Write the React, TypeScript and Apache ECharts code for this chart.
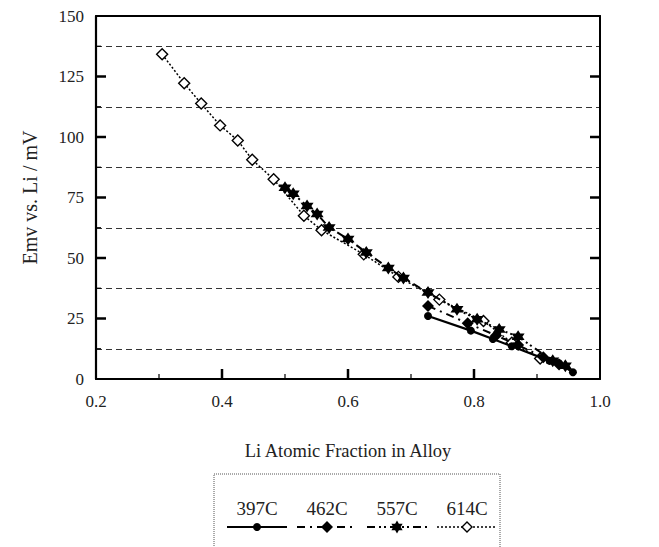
import React, { useEffect, useRef } from "react";
import * as echarts from "echarts";

// ---- data ----
const seriesNames = ["397C", "462C", "557C", "614C"];

const x397 = [0.727, 0.795, 0.83, 0.86, 0.92, 0.935, 0.957];
const y397 = [26.0, 20.0, 16.5, 13.5, 7.5, 6.5, 2.8];

const x462 = [0.727, 0.79, 0.835, 0.87, 0.91, 0.935];
const y462 = [30.2, 23.0, 18.0, 14.0, 9.0, 6.0];

const x557 = [0.5, 0.513, 0.535, 0.551, 0.57, 0.6, 0.629, 0.664, 0.688, 0.727, 0.773, 0.805, 0.84, 0.87, 0.925, 0.945];
const y557 = [79.0, 76.5, 71.5, 68.2, 62.6, 57.9, 52.3, 45.9, 41.7, 35.7, 28.8, 24.7, 20.5, 17.5, 7.5, 5.5];

const x614 = [0.305, 0.34, 0.367, 0.397, 0.425, 0.448, 0.482, 0.53, 0.558, 0.625, 0.68, 0.745, 0.815, 0.86, 0.905];
const y614 = [134.2, 122.2, 113.8, 104.8, 98.6, 90.6, 82.5, 67.5, 61.5, 51.5, 42.2, 32.8, 24.0, 15.0, 8.5];

const xTicks = { min: 0.2, max: 1.0, interval: 0.2 };
const yTicks = { min: 0, max: 150, interval: 25 };

// tick positions (values)
const xMajorTickVals = [0.4, 0.6, 0.8];
const xMinorTickVals = [0.3, 0.5, 0.7, 0.9];
const yMajorTickVals = [25, 50, 75, 100, 125];
const yMinorTickVals = [12.5, 37.5, 62.5, 87.5, 112.5, 137.5];

const FONT = "Liberation Serif";
const STAR =
  "path://M0,-10L2.887,-5L8.66,-5L5.77,0L8.66,5L2.887,5L0,10L-2.887,5L-8.66,5L-5.77,0L-8.66,-5L-2.887,-5Z";

const zip = (xs: number[], ys: number[]) => xs.map((x, i) => [x, ys[i]]);

function starPoints(cx: number, cy: number, r: number) {
  const pts: number[][] = [];
  for (let i = 0; i < 12; i++) {
    const a = (-90 + i * 30) * (Math.PI / 180);
    const rr = i % 2 === 0 ? r : r / Math.sqrt(3);
    pts.push([cx + rr * Math.cos(a), cy + rr * Math.sin(a)]);
  }
  return pts;
}

function diamondPoints(cx: number, cy: number, r: number) {
  return [
    [cx, cy - r],
    [cx + r, cy],
    [cx, cy + r],
    [cx - r, cy],
  ];
}

export default function App() {
  const ref = useRef<HTMLDivElement>(null);

  useEffect(() => {
    document.body.style.margin = "0";
    const chart = echarts.init(ref.current!, null, { renderer: "svg" });

    const lineStyles: any[] = [
      { color: "#000", width: 2.2, type: "solid" },
      { color: "#000", width: 2, type: [8, 5, 2, 5] },
      { color: "#000", width: 2, type: [8, 4, 2, 3, 2, 4] },
      { color: "#000", width: 1.5, type: [2, 2] },
    ];

    // legend drawn as graphic
    const legLeft = 214;
    const legTop = 474;
    const centers = [257, 327, 397, 467];
    const textY = 508;
    const lineY = 527;
    const legendChildren: any[] = [
      {
        type: "rect",
        shape: { x: legLeft, y: legTop, width: 286, height: 90 },
        style: { fill: "none", stroke: "#555", lineWidth: 1, lineDash: [1, 1] },
      },
    ];
    seriesNames.forEach((n, i) => {
      const cx = centers[i];
      legendChildren.push({
        type: "text",
        style: {
          text: n,
          x: cx,
          y: textY,
          align: "center",
          verticalAlign: "middle",
          font: `19px "${FONT}"`,
          fill: "#222",
        },
      });
      const ls = lineStyles[i];
      legendChildren.push({
        type: "line",
        shape: { x1: cx - 30, y1: lineY, x2: cx + 30, y2: lineY },
        style: {
          stroke: "#000",
          lineWidth: ls.width,
          lineDash: Array.isArray(ls.type) ? ls.type : null,
        },
      });
      if (i === 0) {
        legendChildren.push({ type: "circle", shape: { cx, cy: lineY, r: 4 }, style: { fill: "#000" } });
      } else if (i === 1) {
        legendChildren.push({ type: "polygon", shape: { points: diamondPoints(cx, lineY, 6) }, style: { fill: "#000" } });
      } else if (i === 2) {
        legendChildren.push({ type: "polygon", shape: { points: starPoints(cx, lineY, 6.5) }, style: { fill: "#000" } });
      } else {
        legendChildren.push({
          type: "polygon",
          shape: { points: diamondPoints(cx, lineY, 5) },
          style: { fill: "#fff", stroke: "#000", lineWidth: 1.4 },
        });
      }
    });

    // tick marks drawn through the axes' own scale (custom series)
    const MAJOR = 10;
    const MINOR = 5;
    const tickData: number[][] = [];
    yMajorTickVals.forEach((v) => {
      tickData.push([xTicks.min, v, MAJOR, 0, 2.5]);
      tickData.push([xTicks.max, v, -MAJOR, 0, 2.5]);
    });
    yMinorTickVals.forEach((v) => tickData.push([xTicks.min, v, MINOR, 0, 1.2]));
    xMajorTickVals.forEach((v) => tickData.push([v, yTicks.min, 0, -MAJOR, 2.5]));
    xMinorTickVals.forEach((v) => tickData.push([v, yTicks.min, 0, -MINOR, 1.2]));

    const axisLabelStyle = { fontFamily: FONT, fontSize: 17, color: "#222" };

    const option: any = {
      animation: false,
      backgroundColor: "#fff",
      grid: { left: 96, right: 59, top: 16, bottom: 168, containLabel: false },
      xAxis: [
        {
          type: "value",
          position: "bottom",
          min: xTicks.min,
          max: xTicks.max,
          interval: xTicks.interval,
          axisLine: { show: true, onZero: false, lineStyle: { color: "#000", width: 2.2 } },
          axisTick: { show: false },
          splitLine: { show: false },
          axisLabel: { ...axisLabelStyle, margin: 14, formatter: (v: number) => v.toFixed(1) },
          name: "Li Atomic Fraction in Alloy",
          nameLocation: "middle",
          nameGap: 62,
          nameTextStyle: { fontFamily: FONT, fontSize: 18.5, color: "#222" },
        },
        {
          type: "value",
          position: "top",
          min: xTicks.min,
          max: xTicks.max,
          interval: xTicks.interval,
          axisLine: { show: true, onZero: false, lineStyle: { color: "#000", width: 2 } },
          axisTick: { show: false },
          axisLabel: { show: false },
          splitLine: { show: false },
        },
      ],
      yAxis: [
        {
          type: "value",
          position: "left",
          min: yTicks.min,
          max: yTicks.max,
          interval: yTicks.interval,
          axisLine: { show: true, onZero: false, lineStyle: { color: "#000", width: 2.2 } },
          axisTick: { show: false },
          minorTick: { show: false, splitNumber: 2 },
          splitLine: { show: false },
          minorSplitLine: { show: true, lineStyle: { color: "#333", width: 1.2, type: [6, 4] } },
          axisLabel: { ...axisLabelStyle, margin: 12 },
          name: "Emv vs. Li / mV",
          nameLocation: "middle",
          nameGap: 56,
          nameRotate: 90,
          nameTextStyle: { fontFamily: FONT, fontSize: 20, color: "#222" },
        },
        {
          type: "value",
          position: "right",
          min: yTicks.min,
          max: yTicks.max,
          interval: yTicks.interval,
          axisLine: { show: true, onZero: false, lineStyle: { color: "#000", width: 2 } },
          axisTick: { show: false },
          axisLabel: { show: false },
          splitLine: { show: false },
        },
      ],
      series: [
        {
          name: "ticks",
          type: "custom",
          coordinateSystem: "cartesian2d",
          xAxisIndex: 0,
          yAxisIndex: 0,
          clip: false,
          silent: true,
          z: 10,
          data: tickData,
          renderItem: (_params: any, api: any) => {
            const p = api.coord([api.value(0), api.value(1)]);
            return {
              type: "line",
              shape: { x1: p[0], y1: p[1], x2: p[0] + api.value(2), y2: p[1] + api.value(3) },
              style: { stroke: "#000", lineWidth: api.value(4) },
            };
          },
        },
        {
          name: seriesNames[3],
          type: "line",
          data: zip(x614, y614),
          symbol: "diamond",
          symbolSize: 11,
          lineStyle: lineStyles[3],
          itemStyle: { color: "#fff", borderColor: "#000", borderWidth: 1.4 },
          z: 2,
        },
        {
          name: seriesNames[2],
          type: "line",
          data: zip(x557, y557),
          symbol: STAR,
          symbolSize: 13,
          lineStyle: lineStyles[2],
          itemStyle: { color: "#000" },
          z: 3,
        },
        {
          name: seriesNames[1],
          type: "line",
          data: zip(x462, y462),
          symbol: "diamond",
          symbolSize: 12,
          lineStyle: lineStyles[1],
          itemStyle: { color: "#000" },
          z: 4,
        },
        {
          name: seriesNames[0],
          type: "line",
          data: zip(x397, y397),
          symbol: "circle",
          symbolSize: 8,
          lineStyle: lineStyles[0],
          itemStyle: { color: "#000" },
          z: 5,
        },
      ],
      graphic: [{ type: "group", children: legendChildren }],
    };

    chart.setOption(option);
    return () => chart.dispose();
  }, []);

  return (
    <div
      ref={ref}
      style={{ position: "fixed", left: 0, top: 0, width: 659, height: 547, background: "#fff" }}
    />
  );
}
